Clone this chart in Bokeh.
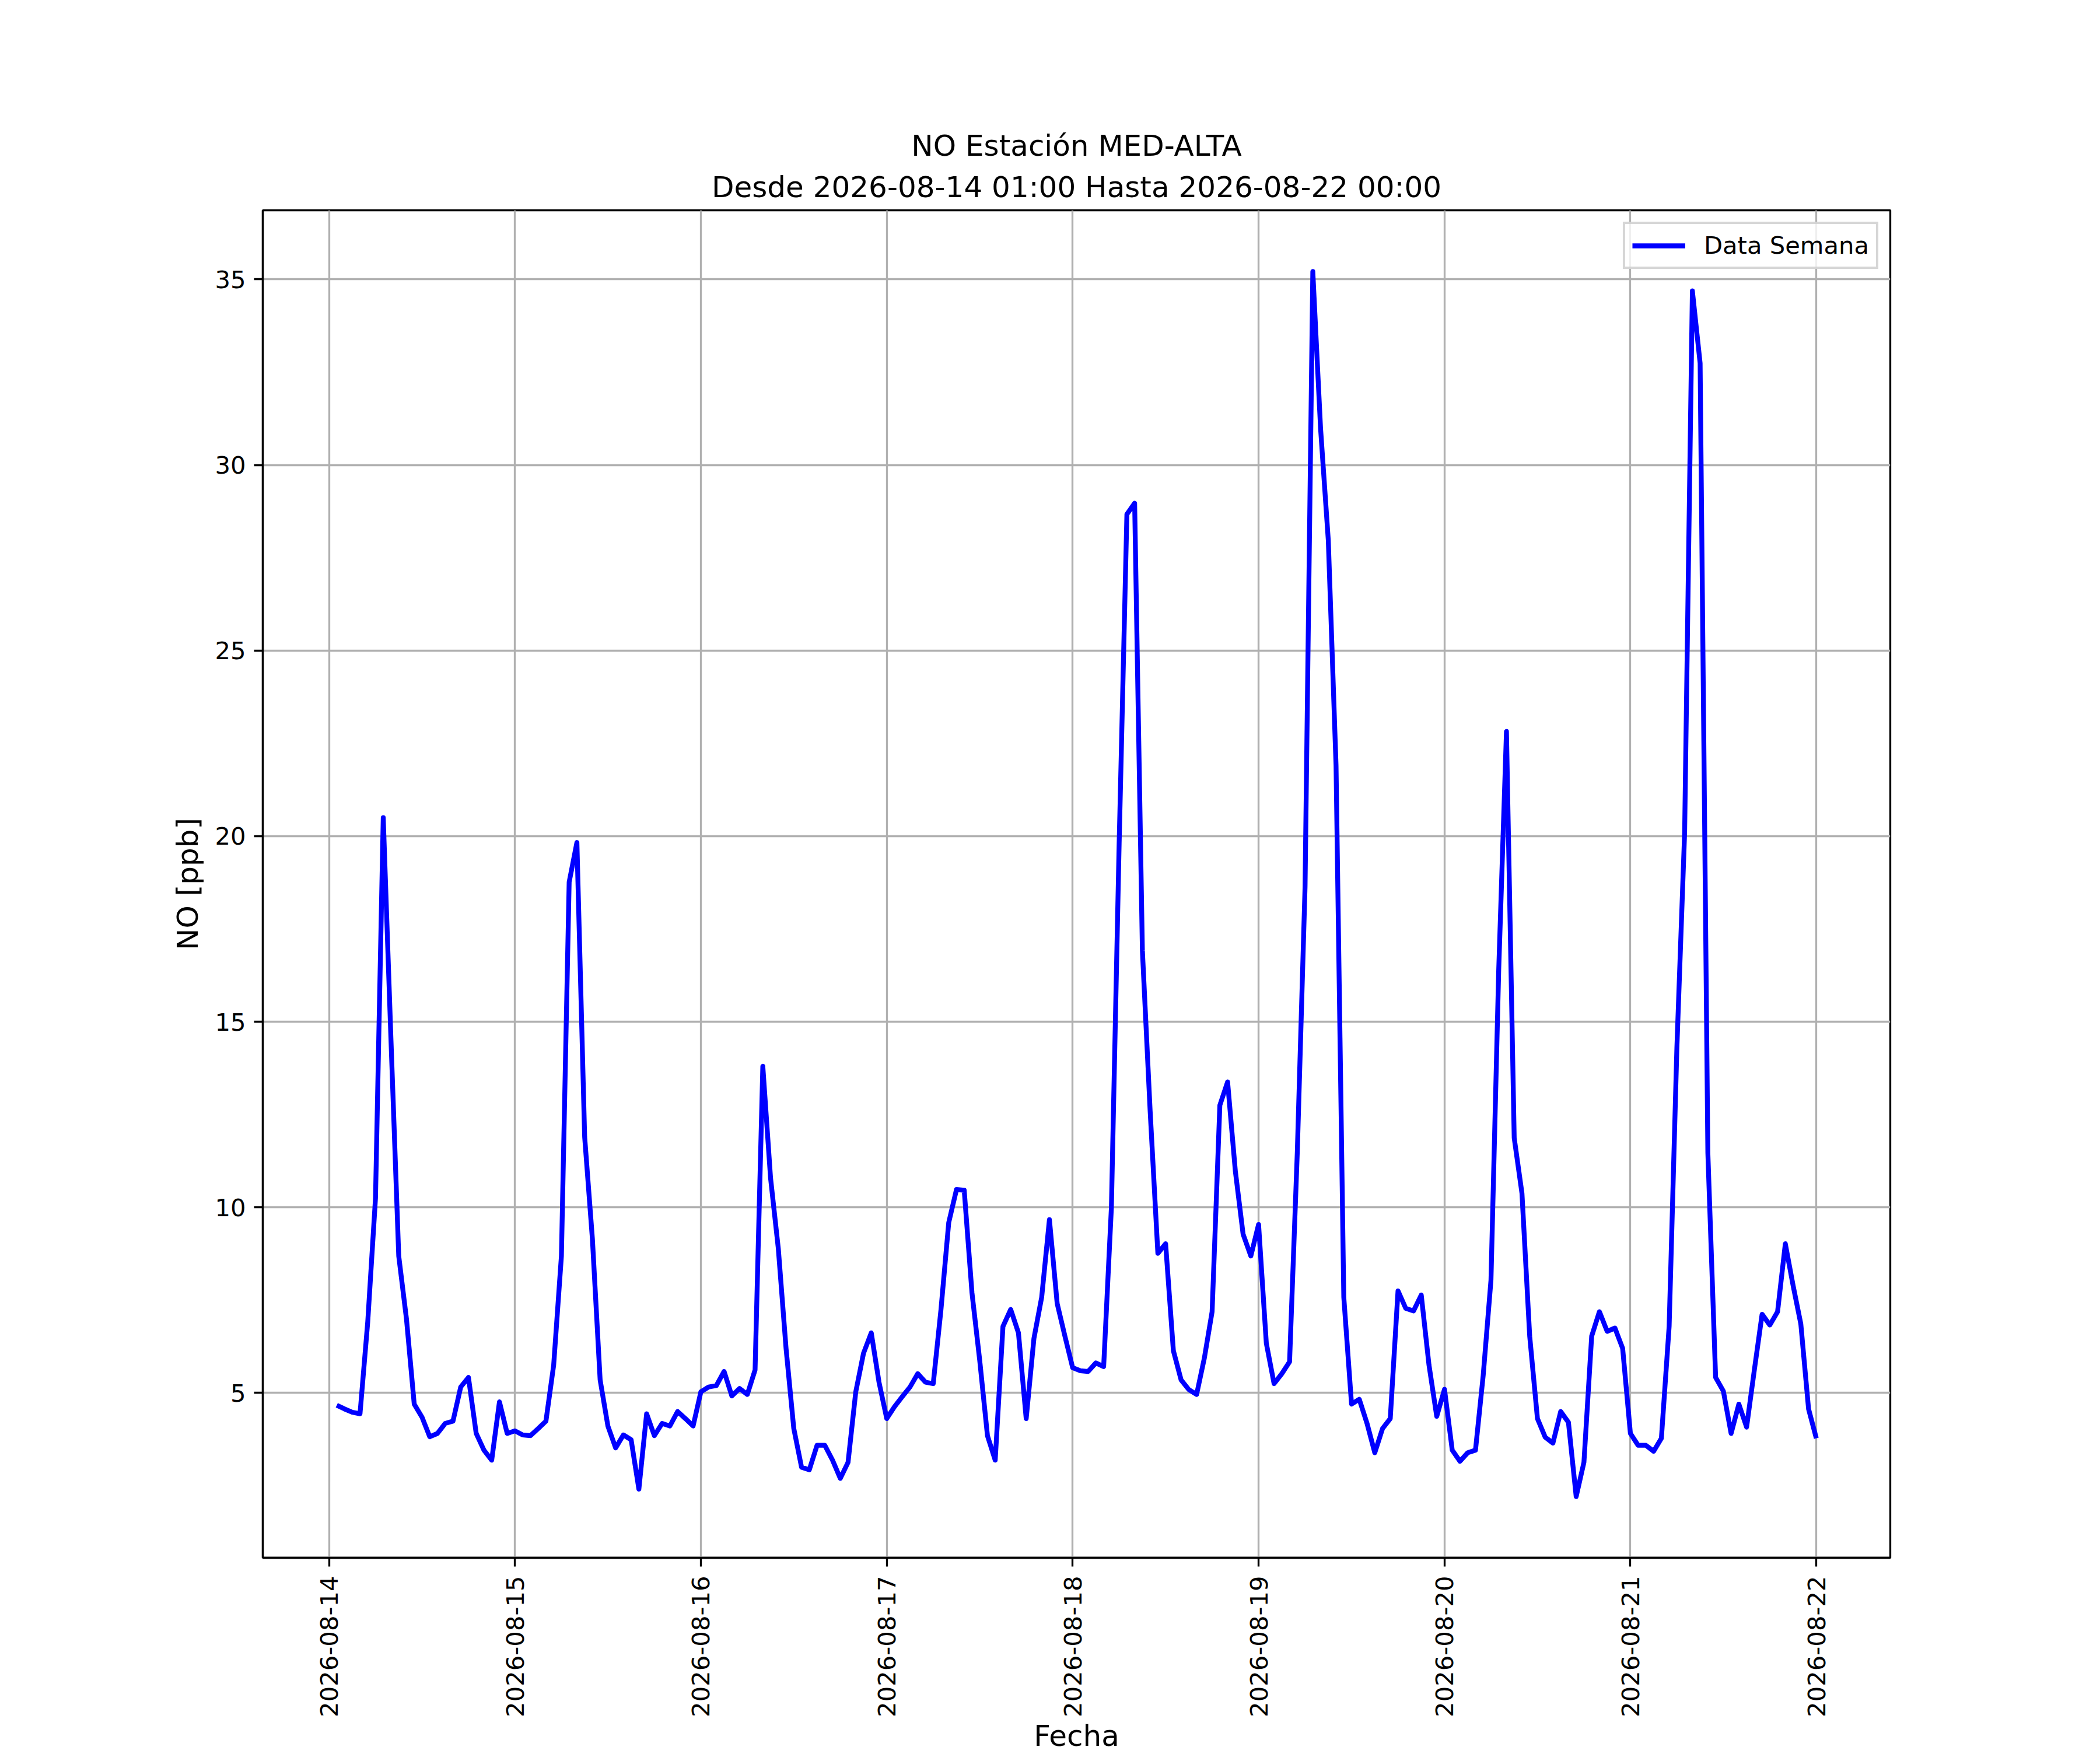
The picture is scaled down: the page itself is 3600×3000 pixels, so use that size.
import math
import pandas as pd
from bokeh.plotting import figure
from bokeh.models import Range1d, FixedTicker, DatetimeTickFormatter, ColumnDataSource, Title
from bokeh.embed import file_html
from bokeh.resources import INLINE

# ---------------- data (hourly NO, ppb) ----------------
start_time = "2026-08-14 01:00"
no_0814 = [4.67, 4.57, 4.48, 4.44, 6.92, 10.25, 20.5, 14.5, 8.69, 6.99, 4.70, 4.35,
           3.82, 3.91, 4.18, 4.24, 5.16, 5.42, 3.91, 3.46, 3.19, 4.76, 3.91, 3.98]
no_0815 = [3.87, 3.85, 4.04, 4.24, 5.75, 8.69, 18.76, 19.83, 11.9, 9.15, 5.35, 4.11,
           3.52, 3.87, 3.74, 2.41, 4.44, 3.85, 4.18, 4.11, 4.50, 4.31, 4.11, 5.03]
no_0816 = [5.16, 5.20, 5.58, 4.92, 5.12, 4.96, 5.62, 13.8, 10.79, 8.89, 6.20, 4.04,
           3.00, 2.93, 3.59, 3.59, 3.19, 2.70, 3.13, 5.03, 6.07, 6.62, 5.29, 4.31]
no_0817 = [4.63, 4.90, 5.16, 5.52, 5.29, 5.25, 7.25, 9.59, 10.48, 10.46, 7.70, 5.88,
           3.85, 3.19, 6.79, 7.25, 6.62, 4.31, 6.47, 7.58, 9.67, 7.41, 6.53, 5.68]
no_0818 = [5.60, 5.58, 5.81, 5.71, 10.0, 19.8, 28.67, 28.97, 16.92, 12.6, 8.76, 9.02,
           6.14, 5.35, 5.09, 4.96, 5.94, 7.19, 12.75, 13.38, 10.98, 9.28, 8.69, 9.54]
no_0819 = [6.34, 5.25, 5.52, 5.84, 11.5, 18.64, 35.21, 30.99, 27.97, 21.9, 7.58, 4.70,
           4.83, 4.18, 3.39, 4.04, 4.31, 7.75, 7.28, 7.21, 7.64, 5.75, 4.37, 5.10]
no_0820 = [3.46, 3.16, 3.39, 3.46, 5.48, 8.04, 16.4, 22.82, 11.87, 10.38, 6.53, 4.31,
           3.81, 3.65, 4.50, 4.21, 2.21, 3.13, 6.53, 7.19, 6.66, 6.75, 6.20, 3.91]
no_0821 = [3.59, 3.59, 3.43, 3.78, 6.79, 14.3, 20.1, 34.69, 32.74, 11.46, 5.42, 5.05,
           3.91, 4.70, 4.08, 5.62, 7.12, 6.83, 7.19, 9.02, 7.90, 6.86, 4.57, 3.78]

tick_days = ["2026-08-14", "2026-08-15", "2026-08-16", "2026-08-17", "2026-08-18",
             "2026-08-19", "2026-08-20", "2026-08-21", "2026-08-22"]
y_ticks = [5, 10, 15, 20, 25, 30, 35]

title_line1 = "NO Estación MED-ALTA"
title_line2 = "Desde 2026-08-14 01:00 Hasta 2026-08-22 00:00"
x_label = "Fecha"
y_label = "NO [ppb]"
legend_text = "Data Semana"

# ---------------- build ----------------
values = no_0814 + no_0815 + no_0816 + no_0817 + no_0818 + no_0819 + no_0820 + no_0821
times = pd.date_range(start_time, periods=len(values), freq="h")
src = ColumnDataSource(dict(t=times, v=values))

def to_ms(ts):
    return pd.Timestamp(ts).value / 1e6

t0, t1 = to_ms(times[0]), to_ms(times[-1])
xpad = 0.05 * (t1 - t0)
vmin, vmax = min(values), max(values)
ypad = 0.05 * (vmax - vmin)

FW, FH = 2790, 2310
FONT = "DejaVu Sans"

p = figure(x_axis_type="datetime", output_backend="svg", toolbar_location=None,
           frame_width=FW, frame_height=FH,
           min_border_left=450, min_border_right=350, min_border_top=360, min_border_bottom=320,
           x_range=Range1d(t0 - xpad, t1 + xpad), y_range=Range1d(vmin - ypad, vmax + ypad))
p.background_fill_color = "white"
p.border_fill_color = "white"
p.outline_line_color = "black"
p.outline_line_width = 3.3
p.outline_line_alpha = 1.0

p.line(x="t", y="v", source=src, line_color="#0000ff", line_width=8.3,
       line_join="round", legend_label=legend_text)

xt = FixedTicker(ticks=[to_ms(d) for d in tick_days])
p.xaxis.ticker = xt
p.xgrid.ticker = xt
fmt = "%Y-%m-%d"
p.xaxis.formatter = DatetimeTickFormatter(
    microseconds=fmt, milliseconds=fmt, seconds=fmt, minsec=fmt, minutes=fmt,
    hourmin=fmt, hours=fmt, days=fmt, months=fmt, years=fmt)
p.xaxis.major_label_orientation = math.pi / 2
yt = FixedTicker(ticks=y_ticks)
p.yaxis.ticker = yt
p.ygrid.ticker = yt

for ax in (p.xaxis, p.yaxis):
    ax.axis_line_color = "black"
    ax.axis_line_width = 3.3
    ax.major_tick_line_color = "black"
    ax.major_tick_line_width = 3.3
    ax.major_tick_out = 15
    ax.major_tick_in = 0
    ax.minor_tick_line_color = None
    ax.major_label_text_font = FONT
    ax.major_label_text_font_size = "41.7px"
    ax.major_label_text_color = "black"
    ax.major_label_standoff = 14
    ax.axis_label_text_font = FONT
    ax.axis_label_text_font_size = "50px"
    ax.axis_label_text_font_style = "normal"
    ax.axis_label_text_color = "black"

p.xaxis.major_label_standoff = 16
p.xaxis.axis_label = x_label
p.xaxis.axis_label_standoff = 0
p.yaxis.axis_label = y_label
p.yaxis.axis_label_standoff = 14

for g in (p.xgrid, p.ygrid):
    g.grid_line_color = "#b0b0b0"
    g.grid_line_width = 3.3

lg = p.legend[0]
lg.location = "top_right"
lg.margin = 20
lg.padding = 12
lg.spacing = 0
lg.glyph_width = 91
lg.glyph_height = 40
lg.label_height = 40
lg.label_standoff = 32
lg.label_text_font = FONT
lg.label_text_font_size = "41.7px"
lg.label_text_color = "black"
lg.border_line_color = "#cccccc"
lg.border_line_alpha = 0.8
lg.border_line_width = 4
lg.background_fill_color = "white"
lg.background_fill_alpha = 0.8

# two-line centered title: outer line (default title) and inner line (next to the frame)
p.title.text = title_line1
p.title.align = "center"
p.title.text_font = FONT
p.title.text_font_size = "50px"
p.title.text_font_style = "normal"
p.title.text_color = "black"
p.title.standoff = 0
p.add_layout(Title(text=title_line2, align="center", text_font=FONT, text_font_size="50px",
                   text_font_style="normal", text_color="black", standoff=22,
                   text_line_height=0.85), "above")

open("out.html", "w").write(file_html(p, INLINE))
